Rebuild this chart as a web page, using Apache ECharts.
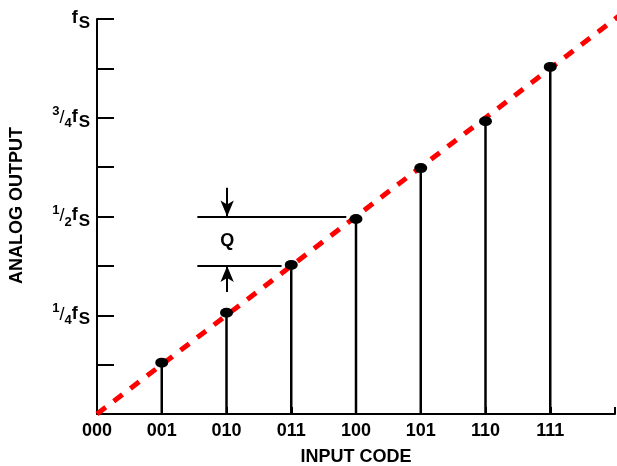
<!DOCTYPE html>
<html><head><meta charset="utf-8">
<script src="https://cdn.jsdelivr.net/npm/echarts@6/dist/echarts.min.js"></script>
<style>html,body{margin:0;padding:0;background:#fff}#c{width:617px;height:466px}</style>
</head><body><div id="c"></div>
<script>
// Input codes (x axis categories, positioned 0..7)
const codes = ['000','001','010','011','100','101','110','111'];
// Analog output for codes 001..111, in units of fs/8
const outputLevels = [1.04, 2.05, 3.02, 3.95, 4.98, 5.93, 7.03];
// Y tick label fractions of fs (index = tick value in fs/8)
const yFractions = [null, null, ['1','4'], null, ['1','2'], null, ['3','4'], null, 'full'];
// Ideal transfer line (dashed red), in (code, fs/8)
const idealLine = [[0, 0], [8.1, 8.1]];
// Q annotation: the two adjacent levels and where the bracket lines start/end
const qLevels = [3, 4];
const qLineStart = 1.55;
const qLineEnds = [2.85, 3.85];
const qArrowX = 2.01;
const qArrowTails = [2.47, 4.58];

const FONT = '"Liberation Sans", Arial, Helvetica, sans-serif';

function yLabel(v) {
  const f = yFractions[Math.round(v)];
  if (!f) return '';
  if (f === 'full') return '{f|f}{s|S}';
  return '{sup|' + f[0] + '}{sl|/}{sub|' + f[1] + '}{f|f}{s|S}';
}

const chart = echarts.init(document.getElementById('c'), null, {renderer: 'canvas'});
const option = {
  animation: false,
  backgroundColor: '#fff',
  grid: {left: 97, right: 2, top: 19, bottom: 52, containLabel: false, outerBoundsMode: 'none'},
  xAxis: {
    type: 'value', min: 0, max: 8, interval: 1,
    axisLine: {show: true, lineStyle: {color: '#000', width: 2}},
    axisTick: {show: true, inside: true, length: 7, lineStyle: {color: '#000', width: 2}},
    splitLine: {show: false},
    axisLabel: {
      margin: 8, color: '#000', fontFamily: FONT, fontWeight: 'bold', fontSize: 18,
      formatter: v => codes[Math.round(v)] || ''
    },
    name: 'INPUT CODE', nameLocation: 'middle', nameGap: 34,
    nameTextStyle: {color: '#000', fontFamily: FONT, fontWeight: 'bold', fontSize: 18}
  },
  yAxis: {
    type: 'value', min: 0, max: 8, interval: 1,
    axisLine: {show: true, lineStyle: {color: '#000', width: 2}},
    axisTick: {show: true, inside: true, length: 17, lineStyle: {color: '#000', width: 2}},
    splitLine: {show: false},
    axisLabel: {
      margin: 7, color: '#000', fontFamily: FONT, fontWeight: 'bold',
      formatter: yLabel,
      rich: {
        f: {fontSize: 18, fontWeight: 'bold', fontFamily: FONT, color: '#000', padding: [0, 1, 2, 0]},
        s: {fontSize: 17, fontWeight: 'bold', fontFamily: FONT, color: '#000', padding: [9, 0, 0, 0]},
        sup: {fontSize: 13, fontWeight: 'bold', fontFamily: FONT, color: '#000', padding: [0, 0, 13, 0]},
        sl: {fontSize: 18, fontWeight: 'normal', fontFamily: FONT, color: '#000', padding: [0, 0, 0, 0]},
        sub: {fontSize: 13, fontWeight: 'bold', fontFamily: FONT, color: '#000', padding: [11, 0, 0, 0]}
      }
    },
    name: 'ANALOG OUTPUT', nameLocation: 'middle', nameGap: 71, nameRotate: 90,
    nameTextStyle: {color: '#000', fontFamily: FONT, fontWeight: 'bold', fontSize: 18, padding: [0, 0, 0, 22]}
  },
  series: [
    {
      type: 'bar', data: outputLevels.map((v, i) => [i + 1, v]),
      barWidth: 2.5, itemStyle: {color: '#000'}, z: 2, silent: true
    },
    {
      type: 'line', data: idealLine, symbol: 'none', clip: false, silent: true, z: 3,
      lineStyle: {color: '#ff0000', width: 5, type: [11, 10], cap: 'butt'}
    },
    {
      type: 'scatter', data: outputLevels.map((v, i) => [i + 1, v]),
      symbol: 'circle', symbolSize: [13, 10], itemStyle: {color: '#000', opacity: 1}, z: 4, silent: true,
      markLine: {
        silent: true, animation: false,
        symbol: 'none',
        lineStyle: {color: '#000', width: 2, type: 'solid', opacity: 1},
        itemStyle: {color: '#000'},
        label: {show: false},
        emphasis: {disabled: true},
        data: [
          [{coord: [qLineStart, qLevels[1]], symbol: 'none'}, {coord: [qLineEnds[1], qLevels[1]], symbol: 'none'}],
          [{coord: [qLineStart, qLevels[0]], symbol: 'none'}, {coord: [qLineEnds[0], qLevels[0]], symbol: 'none'}],
          [{coord: [qArrowX, qArrowTails[1]], symbol: 'none'}, {coord: [qArrowX, qLevels[1]], symbol: 'arrow', symbolSize: [10, 16]}],
          [{coord: [qArrowX, qArrowTails[0]], symbol: 'none'}, {coord: [qArrowX, qLevels[0]], symbol: 'arrow', symbolSize: [10, 16]}]
        ]
      },
      markPoint: {
        silent: true, symbol: 'circle', symbolSize: 0,
        label: {show: true, position: 'inside', formatter: 'Q', color: '#000', fontFamily: FONT, fontWeight: 'bold', fontSize: 18},
        data: [{coord: [qArrowX, (qLevels[0] + qLevels[1]) / 2]}]
      }
    }
  ]
};
chart.setOption(option);
</script>
</body></html>
